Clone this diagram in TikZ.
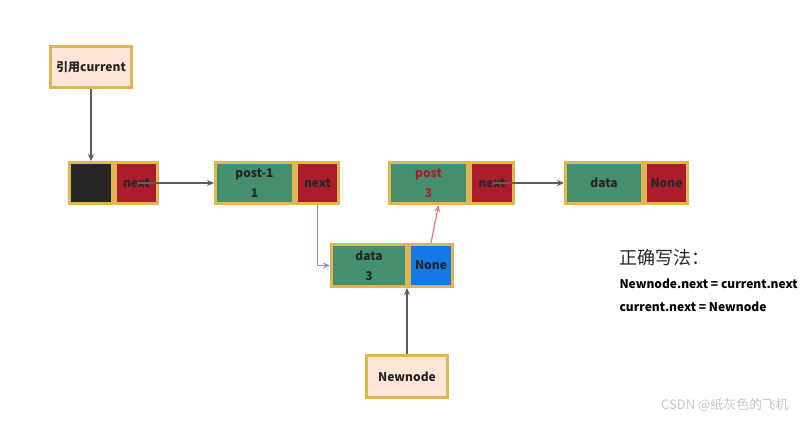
\documentclass[tikz,border=0pt]{standalone}
\usepackage{fontspec}
\setmainfont{Noto Sans CJK SC}
\usepackage{xcolor}
\definecolor{gold}{RGB}{224,182,84}
\definecolor{cellgreen}{RGB}{70,143,110}
\definecolor{cellred}{RGB}{170,28,44}
\definecolor{cellblue}{RGB}{20,121,230}
\definecolor{peach}{RGB}{255,230,214}
\definecolor{ink}{RGB}{38,38,38}
\definecolor{lilac}{RGB}{168,130,224}
\definecolor{rose}{RGB}{232,128,128}
\usepackage{tikz}
\usetikzlibrary{arrows.meta,positioning,calc}
\tikzset{
  cell/.style={draw=gold,line width=2.6pt,minimum height=41.4pt,inner sep=1pt,%
    font=\fontsize{12}{20}\selectfont\bfseries,text=ink,align=center},
  datacell/.style={cell,fill=cellgreen,minimum width=78.4pt},
  ptrcell/.style={cell,fill=cellred,minimum width=42.4pt},
  refbox/.style={cell,fill=peach,minimum width=81pt},
  flow/.style={-{Stealth[length=7pt,width=6pt]},line width=1.3pt,draw=ink!75},
}
\begin{document}
\begin{tikzpicture}[x=1pt,y=-1pt,node distance=0pt]
\useasboundingbox (0,0) rectangle (803,421);
% linked list
\node[cell,fill=ink,minimum width=43.4pt] (blk) at (91,183) {};
\node[ptrcell,right=of blk] (nx1) {next};
\node[datacell] (d2) at (254.5,183) {post-1\\1};
\node[ptrcell,right=of d2] (nx2) {next};
\node[datacell,text=cellred] (d3) at (428.5,183) {post\\3};
\node[ptrcell,right=of d3,minimum width=43.4pt] (nx3) {next};
\node[datacell,minimum width=77.4pt] (d4) at (604,183) {data};
\node[ptrcell,right=of d4] (nn4) {None};
% new node
\node[datacell,minimum width=75.4pt,minimum height=42.4pt] (dn) at (369,265.5) {data\\3};
\node[cell,fill=cellblue,minimum width=43.4pt,minimum height=42.4pt,right=of dn] (nonen) {None};
% references
\node[refbox] (cur) at (91,67) {引用current};
\node[refbox,minimum height=42.4pt] (newn) at (407,376.5) {Newnode};
% arrows
\draw[flow] (cur.south) -- (blk.north);
\draw[flow] (nx1.center) -- (d2.west);
\draw[flow,draw=lilac] (nx2.south) |- (dn.west);
\draw[flow,draw=rose] (nonen.north) -- ([xshift=10pt]d3.south);
\draw[flow] (nx3.center) -- (d4.west);
\draw[flow] (newn.north) -- (newn.north |- dn.south);
% notes
\node[anchor=west,font=\fontsize{18}{22}\selectfont,text=ink] (title) at (616,258) {正确写法：};
\node[anchor=west,font=\fontsize{12}{15}\selectfont\bfseries,text=black] (line1) at (616,284) {Newnode.next = current.next};
\node[anchor=west,font=\fontsize{12}{15}\selectfont\bfseries,text=black] (line2) at (616,307) {current.next = Newnode};
\node[anchor=east,font=\fontsize{13}{15}\selectfont,text=gray!45] (mark) at (792,405) {CSDN @纸灰色的飞机};
\end{tikzpicture}
\end{document}
